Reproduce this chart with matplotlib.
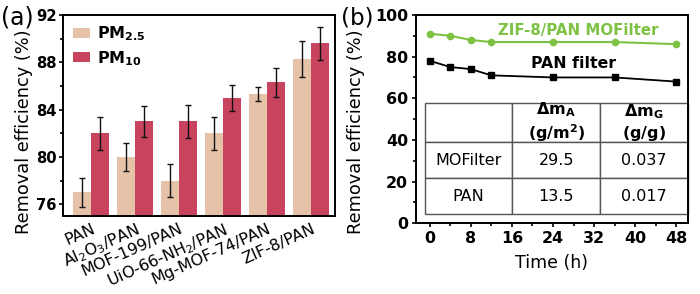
import numpy as np
import matplotlib
matplotlib.use('Agg')
import matplotlib.pyplot as plt
from matplotlib.ticker import MultipleLocator

plt.rcParams['font.family'] = ['DejaVu Sans']
plt.rcParams['mathtext.fontset'] = 'dejavusans'

# panel (a) data
filters = ['PAN', 'Al$_2$O$_3$/PAN', 'MOF-199/PAN', 'UiO-66-NH$_2$/PAN',
           'Mg-MOF-74/PAN', 'ZIF-8/PAN']
pm25 = [77.0, 80.0, 78.0, 82.0, 85.3, 88.3]
pm25_err = [1.2, 1.2, 1.4, 1.4, 0.6, 1.5]
pm10 = [82.0, 83.0, 83.0, 85.0, 86.3, 89.6]
pm10_err = [1.4, 1.3, 1.4, 1.1, 1.2, 1.4]

# panel (b) data
hours = [0, 4, 8, 12, 24, 36, 48]
mof_eff = [91, 90, 88, 87, 87, 87, 86]
pan_eff = [78, 75, 74, 71, 70, 70, 68]

table_cols = ['', '$\\mathbf{\\Delta m_A}$\n$\\mathbf{(g/m^2)}$',
              '$\\mathbf{\\Delta m_G}$\n$\\mathbf{(g/g)}$']
table_rows = [['MOFilter', '29.5', '0.037'],
              ['PAN', '13.5', '0.017']]

c25 = '#E6C2A8'
c10 = '#C8435E'
green = '#7DC243'

fig = plt.figure(figsize=(7.0, 2.94), dpi=100)
axa = fig.add_axes([0.09, 0.265, 0.389, 0.684])
axb = fig.add_axes([0.594, 0.241, 0.389, 0.708])

for ax in (axa, axb):
    for s in ax.spines.values():
        s.set_linewidth(1.4)
    ax.tick_params(which='both', direction='out', width=1.2, top=False, right=False)
    ax.tick_params(which='major', length=3)
    ax.tick_params(which='minor', length=2)

# ---- (a)
x = np.arange(len(filters))
w = 0.41
ekw = dict(ecolor='#111111', elinewidth=1.0, capsize=2, capthick=1.0)
axa.bar(x - w / 2, pm25, w, yerr=pm25_err, color=c25, label='$\\mathbf{PM_{2.5}}$',
        error_kw=ekw, zorder=2)
axa.bar(x + w / 2, pm10, w, yerr=pm10_err, color=c10, label='$\\mathbf{PM_{10}}$',
        error_kw=ekw, zorder=2)
axa.set_xlim(-0.64, 5.55)
axa.set_ylim(75, 92)
axa.yaxis.set_major_locator(MultipleLocator(4))
axa.yaxis.set_minor_locator(MultipleLocator(2))
axa.set_xticks(x)
axa.set_xticklabels(filters, rotation=24, ha='right', va='top',
                    rotation_mode='anchor', fontsize=11.5)
axa.tick_params(axis='x', length=0, pad=3.5)
axa.tick_params(axis='y', labelsize=10.6, pad=1.5)
for lab in axa.get_yticklabels():
    lab.set_fontweight('bold')
axa.set_ylabel('Removal efficiency (%)', fontsize=12.8, labelpad=2)
axa.yaxis.label.set_y(0.42)
axa.legend(loc='upper left', frameon=False, fontsize=11.5, handlelength=1.1,
           handleheight=0.6, borderaxespad=0.2, labelspacing=0.35,
           handletextpad=0.4, bbox_to_anchor=(0.0, 1.0))
fig.text(0.002, 0.94, '(a)', fontsize=17, va='center')

# ---- (b)
axb.plot(hours, mof_eff, '-o', color=green, lw=1.5, ms=4.5, zorder=3)
axb.plot(hours, pan_eff, '-s', color='black', lw=1.3, ms=3.8, zorder=3)
axb.set_xlim(-2.7, 50.3)
axb.set_ylim(0, 100)
axb.xaxis.set_major_locator(MultipleLocator(8))
axb.xaxis.set_minor_locator(MultipleLocator(4))
axb.yaxis.set_major_locator(MultipleLocator(20))
axb.yaxis.set_minor_locator(MultipleLocator(10))
axb.tick_params(which='major', labelsize=11.4, pad=2.5)
for lab in axb.get_xticklabels() + axb.get_yticklabels():
    lab.set_fontweight('bold')
axb.set_xlabel('Time (h)', fontsize=12.5, labelpad=6)
axb.set_ylabel('Removal efficiency (%)', fontsize=12.8, labelpad=7)
axb.yaxis.label.set_y(0.44)
axb.text(29, 92.5, 'ZIF-8/PAN MOFilter', color=green, fontsize=10.8,
         fontweight='bold', ha='center', va='center')
axb.text(28, 76.5, 'PAN filter', color='black', fontsize=11.3,
         fontweight='bold', ha='center', va='center')

tb = axb.table(cellText=table_rows, colLabels=table_cols, cellLoc='center',
               bbox=[0.032, 0.043, 0.968, 0.534])
tb.auto_set_font_size(False)
tb.set_fontsize(11.5)
for (r, c), cell in tb.get_celld().items():
    cell.set_edgecolor('#555555')
    cell.set_linewidth(1.0)
    cell.set_facecolor('white')
    if r == 0:
        cell.set_height(cell.get_height() * 1.08)
fig.text(0.487, 0.94, '(b)', fontsize=16.5, va='center')

fig.savefig('out.png', dpi=100)
